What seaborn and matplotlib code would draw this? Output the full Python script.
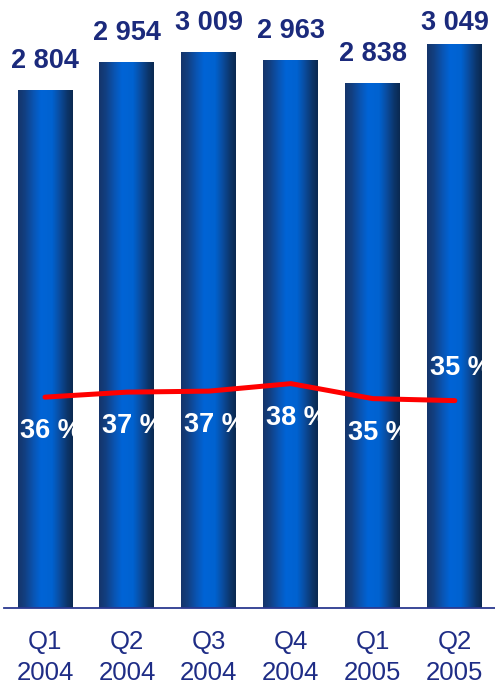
import numpy as np
import pandas as pd
import matplotlib
matplotlib.use("Agg")
import matplotlib.pyplot as plt
import seaborn as sns
from matplotlib.colors import LinearSegmentedColormap

# Quarterly volumes and margin (%)
quarters = ["Q1\n2004", "Q2\n2004", "Q3\n2004", "Q4\n2004", "Q1\n2005", "Q2\n2005"]
volumes = [2804, 2954, 3009, 2963, 2838, 3049]
margins = [35.6, 36.6, 36.8, 38.3, 35.3, 34.9]

sns.set_theme(style="white")
plt.rcParams["font.family"] = ["Liberation Sans", "DejaVu Sans"]

NAVY = "#1b2a7c"
YMAX = 3290

fig = plt.figure(figsize=(4.95, 6.87), dpi=100)
fig.patch.set_facecolor("white")
ax = fig.add_axes([4 / 495, 1 - 607.7 / 687, 1 - 4 / 495, 607.7 / 687])

df = pd.DataFrame({"quarter": quarters, "volume": volumes})
sns.barplot(data=df, x="quarter", y="volume", ax=ax, width=0.67,
            color="#0a56b8", saturation=1)

# cylinder-like shading on each bar
tube = LinearSegmentedColormap.from_list(
    "tube",
    [(0.00, "#15346a"), (0.12, "#123f80"), (0.28, "#0a54b2"),
     (0.42, "#0064d6"), (0.62, "#0062d0"), (0.76, "#0a4c9e"),
     (0.90, "#0c3569"), (1.00, "#0a2850")])
grad = np.linspace(0, 1, 256)[None, :]
for p in ax.patches:
    x0, w, h = p.get_x(), p.get_width(), p.get_height()
    ax.imshow(grad, cmap=tube, extent=[x0, x0 + w, 0, h], aspect="auto",
              zorder=2, interpolation="bilinear")
    p.set_visible(False)

# value labels above the bars, kept below the top edge of the plot
px = YMAX / 607.7
label_cap = YMAX - 23 * px
for i, v in enumerate(volumes):
    ax.text(i, min(v + 29 * px, label_cap), f"{v:,}".replace(",", " "),
            ha="center", va="center", fontsize=19.5, fontweight="bold",
            color=NAVY)

# margin line on a secondary scale
ax2 = ax.twinx()
sns.lineplot(x=list(range(len(margins))), y=margins, ax=ax2,
             color="#ff0000", linewidth=3.6, zorder=5)
ax2.set_ylim(-6.5, 115)
for i, m in enumerate(margins):
    dy = 23.8 if i == len(margins) - 1 else -24.5
    ax2.annotate(f"{m:.0f} %", xy=(i, m), xytext=(-18, dy),
                 textcoords="offset points", ha="left", va="center",
                 fontsize=19.5, fontweight="bold", color="white", zorder=6)

ax.set_xlim(-0.5, 5.49)
ax.set_ylim(0, YMAX)
ax.set_xlabel("")
ax.set_ylabel("")
ax2.set_ylabel("")
ax.set_yticks([])
ax2.set_yticks([])
for s in ["top", "left", "right"]:
    ax.spines[s].set_visible(False)
for s in ax2.spines.values():
    s.set_visible(False)
ax.spines["bottom"].set_color("#2b3990")
ax.spines["bottom"].set_linewidth(1.3)
ax.tick_params(axis="x", length=0, pad=16, labelsize=18.5, labelcolor="#1f2d86")
for t in ax.get_xticklabels():
    t.set_linespacing(1.36)

fig.savefig("out.png", dpi=100, facecolor="white")
